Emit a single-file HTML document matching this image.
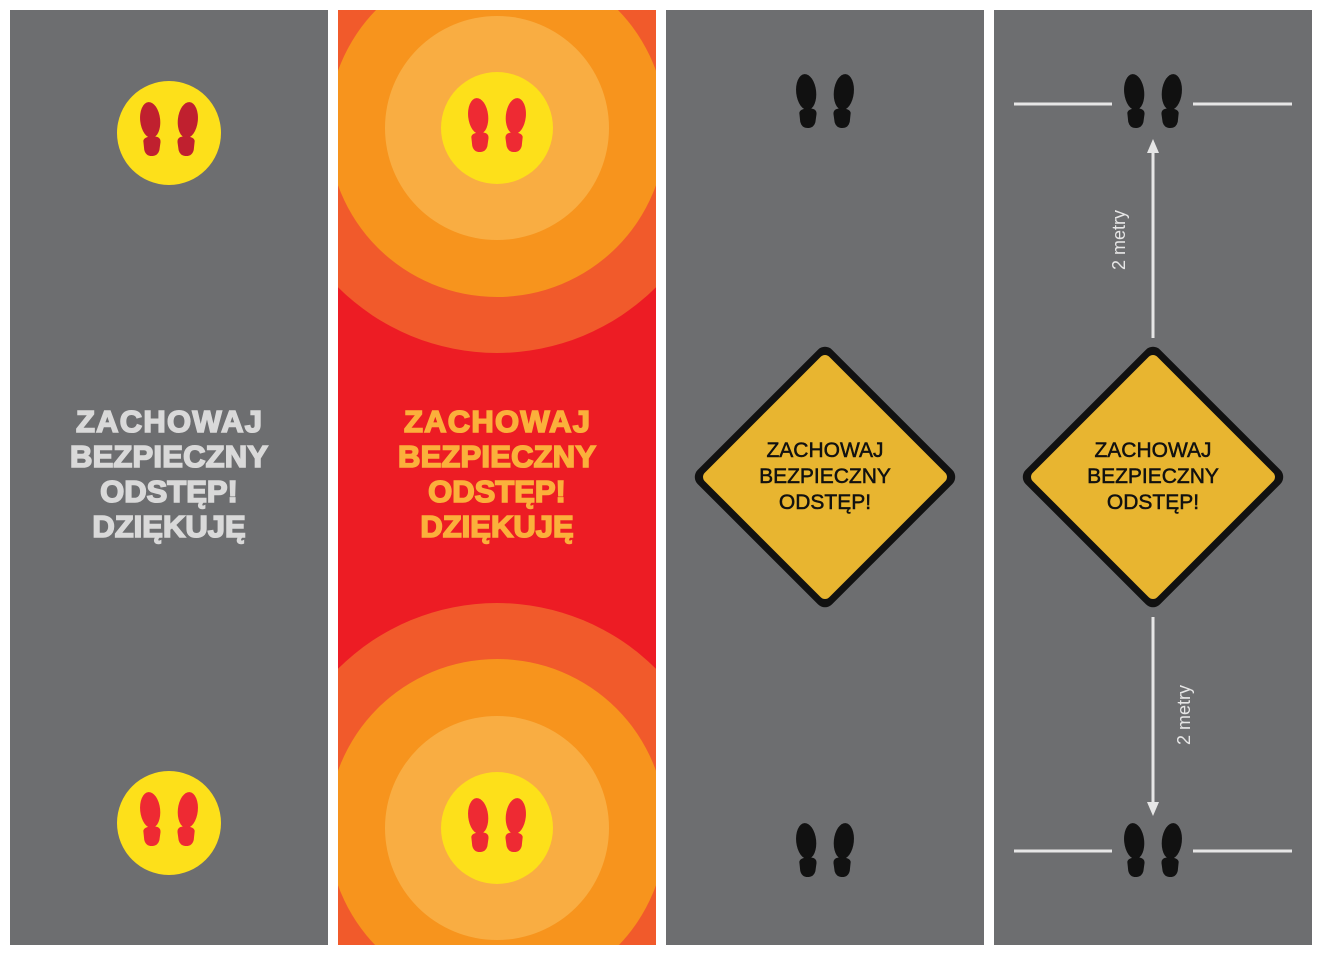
<!DOCTYPE html>
<html><head><meta charset="utf-8"><style>
html,body{margin:0;padding:0;background:#fff;overflow:hidden;width:1322px;height:955px;}
svg{display:block}
</style></head><body>
<svg width="1322" height="955" viewBox="0 0 1322 955" xmlns="http://www.w3.org/2000/svg">
<defs>
<g id="foot">
 <ellipse cx="0" cy="-8" rx="10" ry="18"/>
 <path d="M-9,12 Q-8,8 0,8.5 Q9,9 8,15 L6,23 Q4,28 -1,28 Q-8,28 -9,21 Z"/>
</g>
<g id="feet">
 <use href="#foot" transform="translate(-18,0) rotate(-6)"/>
 <use href="#foot" transform="translate(18,0) scale(-1,1) rotate(-6)"/>
</g>
<clipPath id="c2"><rect x="338" y="10" width="318" height="935"/></clipPath>
</defs>
<!-- panel 1 -->
<rect x="10" y="10" width="318" height="935" fill="#6d6e70"/>
<circle cx="169" cy="133" r="52" fill="#fde01a"/>
<use href="#feet" x="169" y="128" fill="#c0202f"/>
<circle cx="169" cy="823" r="52" fill="#fde01a"/>
<use href="#feet" x="169" y="818" fill="#ee2a33"/>
<g font-family="Liberation Sans, sans-serif" font-weight="bold" font-size="31" text-anchor="middle" fill="#d9d9d9" stroke="#d9d9d9" stroke-width="1.6">
<text x="169" y="432" textLength="186">ZACHOWAJ</text><text x="169" y="467" textLength="198">BEZPIECZNY</text><text x="169" y="502">ODSTĘP!</text><text x="169" y="537">DZIĘKUJĘ</text>
</g>
<!-- panel 2 -->
<g clip-path="url(#c2)">
<rect x="338" y="10" width="318" height="935" fill="#ed1c24"/>
<circle cx="497" cy="128" r="225" fill="#f15a2b"/>
<circle cx="497" cy="128" r="169" fill="#f7941d"/>
<circle cx="497" cy="128" r="112" fill="#f9ad42"/>
<circle cx="497" cy="128" r="56" fill="#fde01a"/>
<circle cx="497" cy="828" r="225" fill="#f15a2b"/>
<circle cx="497" cy="828" r="169" fill="#f7941d"/>
<circle cx="497" cy="828" r="112" fill="#f9ad42"/>
<circle cx="497" cy="828" r="56" fill="#fde01a"/>
</g>
<use href="#feet" x="497" y="124" fill="#ee2a33"/>
<use href="#feet" x="497" y="824" fill="#ee2a33"/>
<g font-family="Liberation Sans, sans-serif" font-weight="bold" font-size="31" text-anchor="middle" fill="#fbb03b" stroke="#fbb03b" stroke-width="1.6">
<text x="497" y="432" textLength="186">ZACHOWAJ</text><text x="497" y="467" textLength="198">BEZPIECZNY</text><text x="497" y="502">ODSTĘP!</text><text x="497" y="537">DZIĘKUJĘ</text>
</g>
<!-- panel 3 -->
<rect x="666" y="10" width="318" height="935" fill="#6d6e70"/>
<use href="#feet" x="825" y="100" fill="#111"/>
<use href="#feet" x="825" y="849" fill="#111"/>
<g transform="translate(825,477) rotate(45)">
<rect x="-95" y="-95" width="190" height="190" rx="10" fill="#111"/>
<rect x="-88" y="-88" width="176" height="176" rx="6" fill="#e8b530"/>
</g>
<g font-family="Liberation Sans, sans-serif" font-size="21" text-anchor="middle" fill="#111" stroke="#111" stroke-width="0.5">
<text x="825" y="457">ZACHOWAJ</text><text x="825" y="483">BEZPIECZNY</text><text x="825" y="509">ODSTĘP!</text>
</g>
<!-- panel 4 -->
<rect x="994" y="10" width="318" height="935" fill="#6d6e70"/>
<use href="#feet" x="1153" y="100" fill="#111"/>
<use href="#feet" x="1153" y="849" fill="#111"/>
<g stroke="#e6e6e6" stroke-width="3">
<line x1="1014" y1="104" x2="1112" y2="104"/><line x1="1193" y1="104" x2="1292" y2="104"/>
<line x1="1014" y1="851" x2="1112" y2="851"/><line x1="1193" y1="851" x2="1292" y2="851"/>
<line x1="1153" y1="150" x2="1153" y2="338"/><line x1="1153" y1="617" x2="1153" y2="806"/>
</g>
<path d="M1153,139 L1147,153 L1159,153 Z" fill="#e6e6e6"/>
<path d="M1153,816 L1147,802 L1159,802 Z" fill="#e6e6e6"/>
<g font-family="Liberation Sans, sans-serif" font-size="18" fill="#e6e6e6" text-anchor="middle">
<text transform="translate(1125,240) rotate(-90)">2 metry</text>
<text transform="translate(1190,715) rotate(-90)">2 metry</text>
</g>
<g transform="translate(1153,477) rotate(45)">
<rect x="-95" y="-95" width="190" height="190" rx="10" fill="#111"/>
<rect x="-88" y="-88" width="176" height="176" rx="6" fill="#e8b530"/>
</g>
<g font-family="Liberation Sans, sans-serif" font-size="21" text-anchor="middle" fill="#111" stroke="#111" stroke-width="0.5">
<text x="1153" y="457">ZACHOWAJ</text><text x="1153" y="483">BEZPIECZNY</text><text x="1153" y="509">ODSTĘP!</text>
</g>
</svg>
</body></html>
